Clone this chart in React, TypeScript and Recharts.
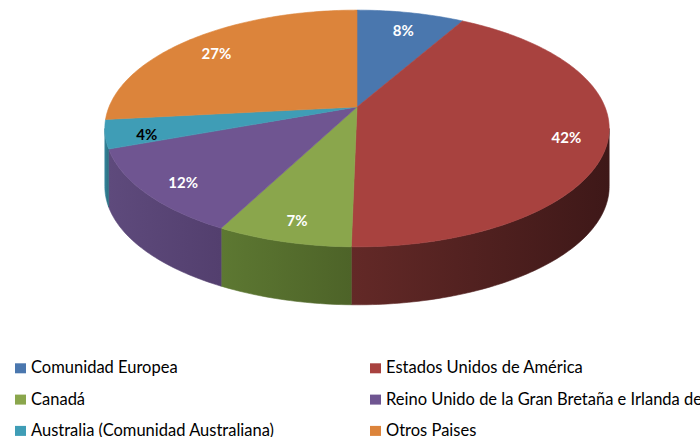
import React from 'react';
import { PieChart, Pie, Cell, Legend } from 'recharts';

// ---- data ----
const categories = [
  'Comunidad Europea',
  'Estados Unidos de América',
  'Canadá',
  'Reino Unido de la Gran Bretaña e Irlanda del Norte',
  'Australia (Comunidad Australiana)',
  'Otros Paises',
];
const shares = [8.2, 42.1, 7.3, 11.8, 3.9, 26.7];

// ---- styles ----
const TOP_COLORS = ['#4a77ae', '#a8423f', '#8aa64c', '#6f5591', '#3f9db6', '#dc843b'];
const SIDE_LIGHT = ['#3a5f8c', '#632927', '#5d7832', '#5e4a7c', '#33849a', '#b86c2c'];
const SIDE_DARK = ['#2e4b70', '#3e1818', '#4d6328', '#533f6e', '#2b6e80', '#95561f'];
const LABEL_COLORS = ['#ffffff', '#ffffff', '#ffffff', '#ffffff', '#000000', '#ffffff'];
const FONT = 'Lato, "Liberation Sans", Arial, sans-serif';

const data = categories.map((name, i) => ({ name, value: shares[i] }));

// perspective projection of the tilted disc
const K = 0.1814;
const TILT = 0.4615;
const DEPTH = 58;

function project(cx: number, cy: number, R: number, thetaDeg: number, r = 1): [number, number] {
  const t = (thetaDeg * Math.PI) / 180;
  const u = r * Math.sin(t);
  const v = r * Math.cos(t);
  const d = 1 + K * v;
  return [cx + (R * u) / d, cy - (R * TILT * v) / d];
}

function idxOf(props: any): number {
  const name = props.name ?? props.payload?.name;
  let i = categories.indexOf(name);
  if (i < 0) i = TOP_COLORS.indexOf(props.fill);
  return Math.max(0, i);
}

function Slice3D(props: any) {
  const { cx, cy, outerRadius, startAngle, endAngle } = props;
  const idx = idxOf(props);
  const t1 = 90 - startAngle;
  const t2 = 90 - endAngle;
  const n = Math.max(2, Math.ceil(Math.abs(t2 - t1)));
  const rim: [number, number][] = [];
  for (let i = 0; i <= n; i++) rim.push(project(cx, cy, outerRadius, t1 + ((t2 - t1) * i) / n));
  const top = `M${cx},${cy} ` + rim.map((p) => `L${p[0].toFixed(2)},${p[1].toFixed(2)}`).join(' ') + ' Z';

  const s1 = (Math.acos(-K) * 180) / Math.PI;
  const s2 = 360 - s1;
  const a = Math.max(t1, s1);
  const b = Math.min(t2, s2);
  let side: React.ReactNode = null;
  const gid = `sideGrad${idx}`;
  if (b > a) {
    const m = Math.max(2, Math.ceil(b - a));
    const pts: [number, number][] = [];
    for (let i = 0; i <= m; i++) pts.push(project(cx, cy, outerRadius, a + ((b - a) * i) / m));
    const upper = pts.map((p) => `${p[0].toFixed(2)},${p[1].toFixed(2)}`);
    const lower = pts
      .slice()
      .reverse()
      .map((p) => `${p[0].toFixed(2)},${(p[1] + DEPTH).toFixed(2)}`);
    const path = 'M' + upper.join(' L') + ' L' + lower.join(' L') + ' Z';
    side = (
      <g>
        <defs>
          <linearGradient id={gid} x1="0" y1="0" x2="1" y2="0">
            <stop offset="0%" stopColor={SIDE_LIGHT[idx]} />
            <stop offset="100%" stopColor={SIDE_DARK[idx]} />
          </linearGradient>
        </defs>
        <path d={path} fill={`url(#${gid})`} stroke={`url(#${gid})`} strokeWidth={0.6} />
      </g>
    );
  }
  return (
    <g>
      {side}
      <path d={top} fill={TOP_COLORS[idx]} stroke={TOP_COLORS[idx]} strokeWidth={0.6} />
    </g>
  );
}

const renderLabel = (p: any) => {
  const { cx, cy, midAngle, outerRadius, percent, index } = p;
  const [x, y] = project(cx, cy, outerRadius, 90 - midAngle, 0.84);
  return (
    <text
      x={x}
      y={y + 10}
      fill={LABEL_COLORS[index] ?? '#fff'}
      textAnchor="middle"
      fontWeight="bold"
      fontSize={15}
      fontFamily={FONT}
    >
      {Math.round(percent * 100)}%
    </text>
  );
};

const renderLegend = () => (
  <svg width={700} height={90} style={{ display: 'block', overflow: 'hidden' }}>
    {categories.map((c, i) => {
      const col = i % 2;
      const row = Math.floor(i / 2);
      const x = col ? 370 : 15;
      const base = 26.3 + row * 31.3;
      return (
        <g key={c}>
          <rect x={x} y={base - 10} width={11} height={10} fill={TOP_COLORS[i]} />
          <text x={x + 16} y={base} fontSize={16.5} fontFamily={FONT} fill="#000">
            {c}
          </text>
        </g>
      );
    })}
  </svg>
);

export default function App() {
  return (
    <div style={{ position: 'absolute', left: 0, top: 0, width: 700, height: 437, background: '#fff', overflow: 'hidden' }}>
      <PieChart width={700} height={437} margin={{ top: 0, right: 0, bottom: 0, left: 0 }}>
        <Pie
          data={data}
          dataKey="value"
          nameKey="name"
          cx={357}
          cy={107}
          outerRadius={248}
          startAngle={90}
          endAngle={-270}
          isAnimationActive={false}
          stroke="none"
          label={renderLabel}
          labelLine={false}
          shape={Slice3D}
          activeShape={Slice3D}
          inactiveShape={Slice3D}
        >
          {data.map((d, i) => (
            <Cell key={d.name} fill={TOP_COLORS[i]} />
          ))}
        </Pie>
        <Legend
          content={renderLegend}
          wrapperStyle={{ position: 'absolute', left: 0, top: 347, width: 700, height: 90 }}
        />
      </PieChart>
    </div>
  );
}
